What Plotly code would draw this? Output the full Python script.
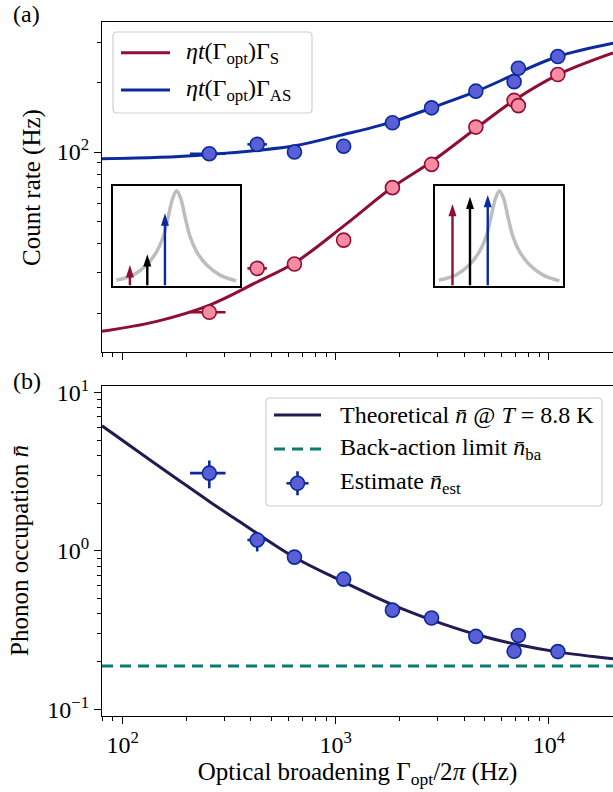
import math
import plotly.graph_objects as go

# ---------------- data ----------------
gamma = [255, 428, 640, 1089, 1845, 2816, 4544, 6870, 7194, 11020]
gamma_err_minus = [48, 43, 0, 0, 0, 0, 0, 0, 0, 0]
gamma_err_plus = [49, 47, 0, 0, 0, 0, 0, 0, 0, 0]

rate_S = [20.2, 31.3, 32.7, 41.5, 70.1, 88.4, 128.3, 167.5, 159.0, 216.8]
rate_AS = [98.4, 108.0, 100.0, 106.0, 134.0, 155.5, 183.7, 202.0, 231.0, 259.6]

fit_S_x = [80, 143, 256, 430, 642, 1102, 1832, 2823, 4592, 6850, 11015, 20000]
fit_S_y = [16.7, 18.4, 21.7, 27.4, 33.1, 48.2, 70.0, 91.0, 127.5, 167.4, 216.3, 268.8]
fit_AS_x = [80, 149, 256, 430, 642, 1044, 1832, 2823, 4592, 7228, 11015, 20000]
fit_AS_y = [93.5, 94.9, 97.7, 101.7, 106.4, 118.1, 134.9, 155.7, 183.7, 221.3, 259.7, 296.5]

n_est = [3.09, 1.17, 0.912, 0.662, 0.422, 0.376, 0.288, 0.232, 0.292, 0.231]
n_err_minus = [0.61, 0.18, 0, 0, 0, 0, 0, 0, 0, 0]
n_err_plus = [0.63, 0.14, 0, 0, 0, 0, 0, 0, 0, 0]

theory_x = [80, 120, 180, 256, 350, 430, 642, 1000, 1500, 2200, 3200, 4600, 7000, 11000, 20000]
theory_n = [6.15, 4.17, 2.84, 2.04, 1.54, 1.28, 0.907, 0.671, 0.518, 0.414, 0.344, 0.295, 0.257, 0.230, 0.208]

n_ba = 0.187
ba_x = [80, 20000]

# inset sketches (normalised inset coordinates)
lor_x = [0.03, 0.163, 0.268, 0.347, 0.40, 0.439, 0.474, 0.505, 0.537, 0.571, 0.611, 0.663, 0.742, 0.847, 0.974]
lor_y = [0.054, 0.104, 0.205, 0.339, 0.49, 0.69, 0.876, 0.953, 0.876, 0.69, 0.49, 0.339, 0.205, 0.104, 0.047]
arrow_pos = [0.137, 0.274, 0.413]
arrow_len_left = [0.205, 0.315, 0.725]
arrow_len_right = [0.82, 0.893, 0.91]

x_ticks = [100, 1000, 10000]
x_ticktext = ["10<sup>2</sup>", "10<sup>3</sup>", "10<sup>4</sup>"]
n_ticks = [0.1, 1, 10]
n_ticktext = ["10<sup>\u22121</sup>", "10<sup>0</sup>", "10<sup>1</sup>"]
rate_ticks = [100]
rate_ticktext = ["10<sup>2</sup>"]

# ---------------- styles ----------------
RED = "#8E0E34"
RED_FILL = "#F58CA2"
BLUE = "#0B2A9E"
BLUE_FILL = "#5A5FD6"
NAVY = "#241A52"
TEAL = "#0B7A72"
FONT = "Liberation Serif"
FS = 24
FS_TITLE = 25

W, H = 613, 792
L, R, T, B = 102, 0, 22, 76
pw = W - L - R
ph = H - T - B


def px(X):
    return (X - L) / pw


def py(Y):
    return (H - B - Y) / ph


minor_x = [m * 10 ** e for e in (1, 2, 3, 4) for m in range(2, 10)]
minor_n = [m * 10 ** e for e in (-1, 0) for m in range(2, 10)]
minor_rate = [m * 10 ** e for e in (1, 2) for m in range(2, 10)]

fig = go.Figure()

# top panel curves
fig.add_trace(go.Scatter(x=fit_S_x, y=fit_S_y, mode="lines", line=dict(color=RED, width=3, shape="spline"),
                         xaxis="x2", yaxis="y2", name="\u03b7t(\u0393opt)\u0393S", showlegend=False))
fig.add_trace(go.Scatter(x=fit_AS_x, y=fit_AS_y, mode="lines", line=dict(color=BLUE, width=3, shape="spline"),
                         xaxis="x2", yaxis="y2", name="\u03b7t(\u0393opt)\u0393AS", showlegend=False))
fig.add_trace(go.Scatter(x=gamma, y=rate_S, mode="markers", xaxis="x2", yaxis="y2", showlegend=False,
                         marker=dict(size=14, color=RED_FILL, line=dict(color=RED, width=1.6)),
                         error_x=dict(type="data", array=gamma_err_plus, arrayminus=gamma_err_minus,
                                      color=RED, thickness=2.6, width=0)))
fig.add_trace(go.Scatter(x=gamma, y=rate_AS, mode="markers", xaxis="x2", yaxis="y2", showlegend=False,
                         marker=dict(size=14, color=BLUE_FILL, line=dict(color=BLUE, width=1.6)),
                         error_x=dict(type="data", array=gamma_err_plus, arrayminus=gamma_err_minus,
                                      color=BLUE, thickness=2.6, width=0)))

# bottom panel
fig.add_trace(go.Scatter(x=theory_x, y=theory_n, mode="lines", line=dict(color=NAVY, width=3, shape="spline"),
                         xaxis="x", yaxis="y", showlegend=False))
fig.add_trace(go.Scatter(x=ba_x, y=[n_ba, n_ba], mode="lines", line=dict(color=TEAL, width=3, dash="11px,7px"),
                         xaxis="x", yaxis="y", showlegend=False))
fig.add_trace(go.Scatter(x=gamma, y=n_est, mode="markers", xaxis="x", yaxis="y", showlegend=False,
                         marker=dict(size=14, color=BLUE_FILL, line=dict(color=BLUE, width=1.6)),
                         error_x=dict(type="data", array=gamma_err_plus, arrayminus=gamma_err_minus,
                                      color=BLUE, thickness=2.6, width=0),
                         error_y=dict(type="data", array=n_err_plus, arrayminus=n_err_minus,
                                      color=BLUE, thickness=2.6, width=0)))

# insets: Lorentzian + arrows (shaft line + arrow-head marker)
arrow_colors = [RED, "black", BLUE]
for xa, ya, lens in (("x3", "y3", arrow_len_left), ("x4", "y4", arrow_len_right)):
    fig.add_trace(go.Scatter(x=lor_x, y=lor_y, mode="lines", xaxis=xa, yaxis=ya, showlegend=False,
                             line=dict(color="#BDBDBD", width=3.5, shape="spline")))
    for xpos, ln, col in zip(arrow_pos, lens, arrow_colors):
        fig.add_trace(go.Scatter(x=[xpos, xpos], y=[0, ln - 0.06], mode="lines", xaxis=xa, yaxis=ya,
                                 showlegend=False, line=dict(color=col, width=2.4)))
        fig.add_trace(go.Scatter(x=[xpos], y=[ln], mode="markers", xaxis=xa, yaxis=ya, showlegend=False,
                                 marker=dict(symbol="arrow", size=13, color=col, line=dict(width=0))))

axis_common = dict(showgrid=False, zeroline=False, showline=True, linecolor="black", linewidth=1.3,
                   ticks="outside", ticklen=7, tickwidth=1.2, tickcolor="black",
                   tickfont=dict(family=FONT, size=FS, color="black"))
xrange_log = [math.log10(80), math.log10(20000)]

inset_common = dict(range=[0, 1], showgrid=False, zeroline=False, showline=True, mirror=True,
                    linecolor="black", linewidth=1.5, showticklabels=False, ticks="", fixedrange=True)

minor_style = dict(ticks="outside", ticklen=4, tickwidth=1, tickcolor="black", showgrid=False)

fig.update_layout(
    width=W, height=H, margin=dict(l=L, r=R, t=T, b=B),
    paper_bgcolor="white", plot_bgcolor="white",
    font=dict(family=FONT, size=FS, color="black"),
    showlegend=False,
    xaxis=dict(**axis_common, type="log", range=xrange_log, domain=[0, 1], anchor="y", mirror=True,
               tickvals=x_ticks, ticktext=x_ticktext,
               minor=dict(**minor_style, tickvals=minor_x),
               title=dict(text="Optical broadening \u0393<sub>opt</sub>/2<i>\u03c0</i> (Hz)",
                          font=dict(family=FONT, size=FS_TITLE), standoff=3)),
    yaxis=dict(**axis_common, type="log", range=[-1.043, 1.042], domain=[0, py(385.7)], anchor="x",
               tickvals=n_ticks, ticktext=n_ticktext,
               minor=dict(**minor_style, tickvals=minor_n)),
    xaxis2=dict(**axis_common, type="log", range=xrange_log, domain=[0, 1], anchor="y2", mirror=True,
                tickvals=x_ticks, showticklabels=False,
                minor=dict(**minor_style, tickvals=minor_x)),
    yaxis2=dict(**axis_common, type="log", range=[1.133, 2.564], domain=[py(352), 1], anchor="x2",
                tickvals=rate_ticks, ticktext=rate_ticktext,
                minor=dict(**minor_style, tickvals=minor_rate)),
    xaxis3=dict(**inset_common, domain=[px(112.5), px(239.5)], anchor="y3"),
    yaxis3=dict(**inset_common, domain=[py(285.5), py(186)], anchor="x3"),
    xaxis4=dict(**inset_common, domain=[px(435), px(562.7)], anchor="y4"),
    yaxis4=dict(**inset_common, domain=[py(285.5), py(186)], anchor="x4"),
)


def rrect(X0, Y0, X1, Y1, r):
    return (f"M {px(X0 + r)},{py(Y0)} L {px(X1 - r)},{py(Y0)} Q {px(X1)},{py(Y0)} {px(X1)},{py(Y0 + r)} "
            f"L {px(X1)},{py(Y1 - r)} Q {px(X1)},{py(Y1)} {px(X1 - r)},{py(Y1)} "
            f"L {px(X0 + r)},{py(Y1)} Q {px(X0)},{py(Y1)} {px(X0)},{py(Y1 - r)} "
            f"L {px(X0)},{py(Y0 + r)} Q {px(X0)},{py(Y0)} {px(X0 + r)},{py(Y0)} Z")


shapes = []
# top legend
shapes.append(dict(type="path", xref="paper", yref="paper", path=rrect(113, 32, 312, 113, 4),
                   fillcolor="rgba(255,255,255,0.8)", line=dict(color="#CFCFCF", width=1.2), layer="above"))
shapes.append(dict(type="line", xref="paper", yref="paper", x0=px(121), x1=px(170), y0=py(52.7), y1=py(52.7),
                   line=dict(color=RED, width=3), layer="above"))
shapes.append(dict(type="line", xref="paper", yref="paper", x0=px(121), x1=px(170), y0=py(90), y1=py(90),
                   line=dict(color=BLUE, width=3), layer="above"))
# bottom legend
shapes.append(dict(type="path", xref="paper", yref="paper", path=rrect(266, 398, 602, 506, 4),
                   fillcolor="rgba(255,255,255,0.8)", line=dict(color="#CFCFCF", width=1.2), layer="above"))
shapes.append(dict(type="line", xref="paper", yref="paper", x0=px(274), x1=px(321), y0=py(415), y1=py(415),
                   line=dict(color=NAVY, width=3), layer="above"))
shapes.append(dict(type="line", xref="paper", yref="paper", x0=px(274), x1=px(321), y0=py(449), y1=py(449),
                   line=dict(color=TEAL, width=3, dash="11px,7px"), layer="above"))
cx, cy = 297.5, 483.3
shapes.append(dict(type="line", xref="paper", yref="paper", x0=px(cx - 11), x1=px(cx + 11), y0=py(cy), y1=py(cy),
                   line=dict(color=BLUE, width=2.6), layer="above"))
shapes.append(dict(type="line", xref="paper", yref="paper", x0=px(cx), x1=px(cx), y0=py(cy - 12), y1=py(cy + 12),
                   line=dict(color=BLUE, width=2.6), layer="above"))
shapes.append(dict(type="circle", xref="paper", yref="paper", x0=px(cx - 7), x1=px(cx + 7), y0=py(cy + 7), y1=py(cy - 7),
                   fillcolor=BLUE_FILL, line=dict(color=BLUE, width=1.6), layer="above"))

annotations = []
leg_font = dict(family=FONT, size=FS, color="black")
title_font = dict(family=FONT, size=FS_TITLE, color="black")
legend_texts = [
    (184, 52.7, "<i>\u03b7t</i>(\u0393<sub>opt</sub>)\u0393<sub>S</sub>"),
    (184, 90, "<i>\u03b7t</i>(\u0393<sub>opt</sub>)\u0393<sub>AS</sub>"),
    (338, 415, "Theoretical <i>n\u0304</i> @ <i>T</i> = 8.8 K"),
    (338, 449, "Back-action limit <i>n\u0304</i><sub>ba</sub>"),
    (338, 483.3, "Estimate <i>n\u0304</i><sub>est</sub>"),
]
for X, Y, txt in legend_texts:
    annotations.append(dict(x=px(X), y=py(Y), xref="paper", yref="paper", text=txt, showarrow=False,
                            xanchor="left", yanchor="middle", font=leg_font))

# y-axis titles
annotations.append(dict(x=px(32), y=py(188), xref="paper", yref="paper", text="Count rate (Hz)",
                        textangle=-90, showarrow=False, xanchor="center", yanchor="middle", font=title_font))
annotations.append(dict(x=px(19), y=py(551), xref="paper", yref="paper", text="Phonon occupation <i>n\u0304</i>",
                        textangle=-90, showarrow=False, xanchor="center", yanchor="middle", font=title_font))

# panel labels
annotations.append(dict(x=px(11), y=py(14), xref="paper", yref="paper", text="(a)", showarrow=False,
                        xanchor="left", yanchor="middle", font=leg_font))
annotations.append(dict(x=px(11), y=py(381), xref="paper", yref="paper", text="(b)", showarrow=False,
                        xanchor="left", yanchor="middle", font=leg_font))

fig.update_layout(shapes=shapes, annotations=annotations)

fig.write_html("out.html", config={"displayModeBar": False},
               post_script="document.body.style.margin='0px';document.body.style.overflow='hidden';")
